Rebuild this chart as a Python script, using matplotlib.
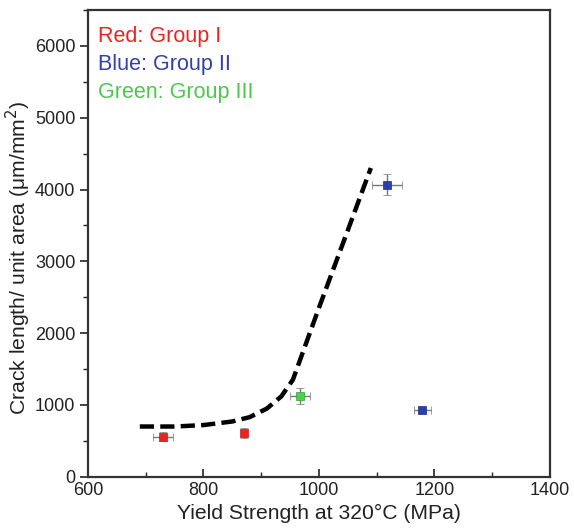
import matplotlib
matplotlib.use("Agg")
import matplotlib.pyplot as plt
from matplotlib.ticker import MultipleLocator

plt.rcParams['font.family'] = ['Liberation Sans', 'DejaVu Sans']

# Measured points: yield strength (MPa), crack length per unit area, errors
red_x = [730, 870]
red_y = [560, 610]
red_xerr = [17, 4]
red_yerr = [60, 70]

blue_x = [1118, 1179]
blue_y = [4070, 930]
blue_xerr = [26, 15]
blue_yerr = [150, 40]

green_x = [967]
green_y = [1125]
green_xerr = [17]
green_yerr = [110]

# Trend guide line
trend_x = [690, 750, 800, 850, 880, 910, 935, 955, 1000, 1050, 1090]
trend_y = [700, 700, 720, 770, 830, 950, 1120, 1350, 2350, 3430, 4300]

fig = plt.figure(figsize=(5.74, 5.28), dpi=100)
ax = fig.add_axes([0.153, 0.097, 0.805, 0.884])

ax.plot(trend_x, trend_y, color='black', lw=3.2, dashes=(3.2, 1.4), solid_capstyle='butt')

err_kw = dict(fmt='s', ms=6, ecolor='#777777', elinewidth=1, capsize=3, capthick=1, mew=0.5)
ax.errorbar(red_x, red_y, xerr=red_xerr, yerr=red_yerr, color='#e8251e', mec='#b02020', **err_kw)
ax.errorbar(blue_x, blue_y, xerr=blue_xerr, yerr=blue_yerr, color='#2a3fa8', mec='#1f2f80', **err_kw)
ax.errorbar(green_x, green_y, xerr=green_xerr, yerr=green_yerr, color='#4cd04c', mec='#33a033', **err_kw)

ax.set_xlim(600, 1400)
ax.set_ylim(0, 6500)
ax.xaxis.set_major_locator(MultipleLocator(200))
ax.xaxis.set_minor_locator(MultipleLocator(100))
ax.yaxis.set_major_locator(MultipleLocator(1000))
ax.yaxis.set_minor_locator(MultipleLocator(500))

for s in ax.spines.values():
    s.set_color('#333333')
    s.set_linewidth(1.6)

ax.tick_params(axis='x', which='both', direction='in', top=False, labelsize=13, colors='#222222', pad=4)
ax.tick_params(axis='y', which='both', direction='out', right=False, labelsize=13, colors='#222222', pad=3)
ax.tick_params(which='major', length=6, width=1.2)
ax.tick_params(which='minor', length=3.5, width=1.0)

ax.set_xlabel('Yield Strength at 320°C (MPa)', fontsize=15.2, color='#222222', labelpad=3)
ax.set_ylabel('Crack length/ unit area (μm/mm$^2$)', fontsize=15.2, color='#222222')
ax.yaxis.set_label_coords(-0.118, 0.469)

ax.text(0.022, 0.965, 'Red: Group I', transform=ax.transAxes, color='#e8251e', fontsize=15.5, va='top')
ax.text(0.022, 0.905, 'Blue: Group II', transform=ax.transAxes, color='#3340a8', fontsize=15.5, va='top')
ax.text(0.022, 0.845, 'Green: Group III', transform=ax.transAxes, color='#4cc84c', fontsize=15.5, va='top')

fig.savefig('out.png', dpi=100)
